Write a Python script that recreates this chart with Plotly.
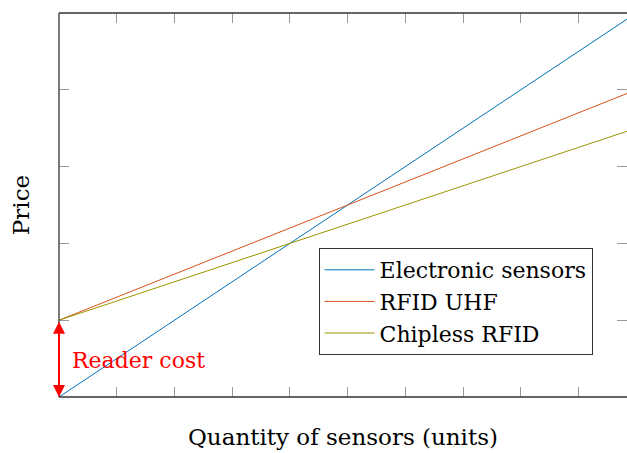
import plotly.graph_objects as go

quantity = [0, 10]
electronic_sensors = [0, 5]
rfid_uhf = [1, 4]
chipless_rfid = [1, 3.5]
reader_cost = [0, 1]

FONT = "DejaVu Serif"
FS = 22
TFS = 23

fig = go.Figure()
fig.add_trace(go.Scatter(x=quantity, y=electronic_sensors, mode="lines", name="Electronic sensors",
                         line=dict(color="#0072BD", width=1)))
fig.add_trace(go.Scatter(x=quantity, y=rfid_uhf, mode="lines", name="RFID UHF",
                         line=dict(color="#D95319", width=1)))
fig.add_trace(go.Scatter(x=quantity, y=chipless_rfid, mode="lines", name="Chipless RFID",
                         line=dict(color="#9C9400", width=1)))

# double arrow for reader cost
fig.add_annotation(x=0, y=reader_cost[0], ax=0, ay=reader_cost[1], xref="x", yref="y",
                   axref="x", ayref="y", text="", showarrow=True, arrowside="end+start",
                   arrowhead=2, arrowsize=1.2, arrowwidth=2, arrowcolor="red")
fig.add_annotation(x=0.19, y=0.48, xref="x", yref="y", text="Reader cost", showarrow=False,
                   xanchor="left", yanchor="middle", font=dict(family=FONT, size=FS, color="red"))

for x0, y0, x1, y1 in [(0, 0, 1, 0), (0, 1, 1, 1), (0, 0, 0, 1)]:
    fig.add_shape(type="line", xref="paper", yref="paper", x0=x0, y0=y0, x1=x1, y1=y1,
                  line=dict(color="#333333", width=1.3))

fig.update_xaxes(range=[0, 9.84], tickvals=list(range(0, 11)), showticklabels=False,
                 ticks="inside", ticklen=10, tickcolor="#999999", tickwidth=1,
                 mirror="ticks", showline=False, showgrid=False, zeroline=False,
                 title=dict(text="Quantity of sensors (units)", font=dict(family=FONT, size=TFS, color="black"),
                            standoff=31))
fig.update_yaxes(range=[0, 5], tickvals=list(range(0, 6)), showticklabels=False,
                 ticks="inside", ticklen=10, tickcolor="#999999", tickwidth=1,
                 mirror="ticks", showline=False, showgrid=False, zeroline=False,
                 title=dict(text="Price", font=dict(family=FONT, size=TFS, color="black"), standoff=21))

fig.update_layout(
    width=627, height=453,
    margin=dict(l=59, r=0, t=13, b=56),
    plot_bgcolor="white", paper_bgcolor="white",
    showlegend=True,
    legend=dict(x=0.457, y=0.388, xanchor="left", yanchor="top",
                bordercolor="#333333", borderwidth=1, bgcolor="white", itemwidth=50,
                font=dict(family=FONT, size=FS, color="black"), tracegroupgap=0),
)

fig.write_html("out.html", config={"displayModeBar": False},
               post_script="document.body.style.margin='0';document.body.style.overflow='hidden';")
